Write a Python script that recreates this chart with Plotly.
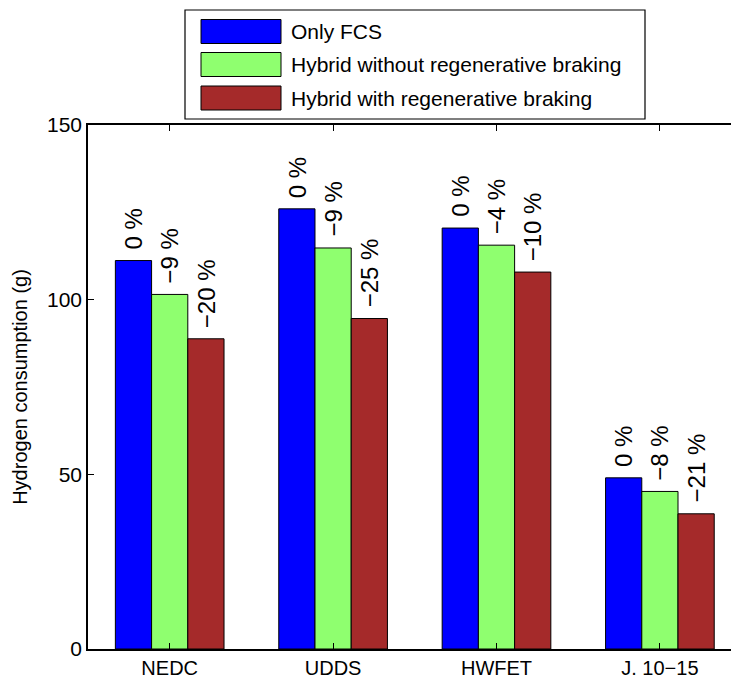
import plotly.graph_objects as go

# ---- data ----
cycles = ["NEDC", "UDDS", "HWFET", "J. 10\u221215"]
series_names = ["Only FCS", "Hybrid without regenerative braking", "Hybrid with regenerative braking"]
only_fcs = [111.2, 126.0, 120.5, 49.0]
hybrid_no_regen = [101.5, 114.8, 115.6, 45.1]
hybrid_regen = [88.8, 94.6, 107.9, 38.7]
pct_only_fcs = ["0 %", "0 %", "0 %", "0 %"]
pct_no_regen = ["\u22129 %", "\u22129 %", "\u22124 %", "\u22128 %"]
pct_regen = ["\u221220 %", "\u221225 %", "\u221210 %", "\u221221 %"]
y_ticks = [0, 50, 100, 150]

# ---- style ----
colors = ["#0000FF", "#8FFF6F", "#A52A2A"]
FONT = "Liberation Sans, Arial, Helvetica, sans-serif"
W, H = 731, 679
ML, MR, MT, MB = 88, 0, 125, 30
PX_PER_CAT = 163.4
group_width = 0.665
bar_w = group_width / 3

positions = list(range(1, len(cycles) + 1))
values = [only_fcs, hybrid_no_regen, hybrid_regen]
labels = [pct_only_fcs, pct_no_regen, pct_regen]

fig = go.Figure()
annotations = []
for j, (name, vals, col, labs) in enumerate(zip(series_names, values, colors, labels)):
    off = -group_width / 2 + j * bar_w
    fig.add_trace(go.Bar(
        x=positions, y=vals, name=name, width=bar_w, offset=off,
        marker=dict(color=col, line=dict(color="black", width=1)),
        showlegend=False,
    ))
    for p, v, t in zip(positions, vals, labs):
        annotations.append(dict(
            x=p + off + bar_w / 2, y=v, xref="x", yref="y", text=t,
            showarrow=False, textangle=-90, xanchor="center", yanchor="bottom",
            yshift=9, font=dict(family=FONT, size=24, color="black"),
        ))

# ---- custom legend (pixel layout converted to paper coords) ----
plot_w = W - ML - MR
plot_h = H - MT - MB
def px(xp):
    return (xp - ML) / plot_w
def py(yp):
    return (H - MB - yp) / plot_h

shapes = [dict(type="rect", xref="paper", yref="paper",
               x0=px(185), x1=px(645), y0=py(119), y1=py(10),
               line=dict(color="black", width=1.2), fillcolor="white", layer="above")]
row_centers = [31.5, 64.5, 98]
for name, col, yc in zip(series_names, colors, row_centers):
    shapes.append(dict(type="rect", xref="paper", yref="paper",
                       x0=px(201), x1=px(281), y0=py(yc + 12), y1=py(yc - 12),
                       line=dict(color="black", width=1), fillcolor=col, layer="above"))
    annotations.append(dict(x=px(289), y=py(yc), xref="paper", yref="paper", text=name,
                            showarrow=False, xanchor="left", yanchor="middle",
                            font=dict(family=FONT, size=21, color="black")))

fig.update_layout(
    width=W, height=H,
    margin=dict(l=ML, r=MR, t=MT, b=MB, pad=0),
    paper_bgcolor="white", plot_bgcolor="white",
    barmode="overlay",
    font=dict(family=FONT, size=21, color="black"),
    shapes=shapes, annotations=annotations,
    xaxis=dict(
        range=[0.5, 0.5 + plot_w / PX_PER_CAT],
        tickmode="array", tickvals=positions, ticktext=cycles,
        ticks="inside", ticklen=6, tickcolor="black", tickwidth=1,
        showline=True, linecolor="black", linewidth=1.5, mirror="allticks",
        showgrid=False, zeroline=False,
        tickfont=dict(family=FONT, size=20),
    ),
    yaxis=dict(
        range=[0, 150], tickmode="array", tickvals=y_ticks,
        ticks="inside", ticklen=6, tickcolor="black", tickwidth=1,
        showline=True, linecolor="black", linewidth=1.5,
        showgrid=False, zeroline=False,
        tickfont=dict(family=FONT, size=21),
        title=dict(text="Hydrogen consumption (g)", font=dict(family=FONT, size=20), standoff=14),
    ),
)

fig.write_html("out.html")
